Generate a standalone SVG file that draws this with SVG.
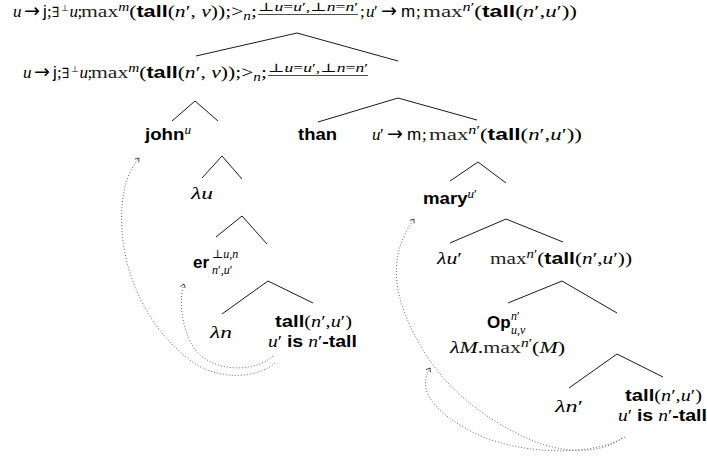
<svg xmlns="http://www.w3.org/2000/svg" width="707" height="460" viewBox="0 0 707 460">
<style>
text{font-family:"Liberation Serif","DejaVu Serif",serif;font-size:17px;fill:#000}
.i{font-style:italic}
.b{font-family:"Liberation Sans","DejaVu Sans",sans-serif;font-weight:bold;font-style:normal}
.sf{font-family:"Liberation Sans","DejaVu Sans",sans-serif;font-style:normal}
.ar{font-family:"DejaVu Sans",sans-serif;font-size:19px;font-style:normal}
.ex{font-family:"DejaVu Serif",serif;font-size:14px}
.bt{font-family:"DejaVu Sans",sans-serif;font-size:9px}
.bb{fill:#222}
.sc{font-size:12px}
.edges line{stroke:#000;stroke-width:0.9}
.moves path{fill:none;stroke:#555;stroke-width:0.9;stroke-dasharray:1 2;marker-end:url(#ah)}
.rule{stroke:#000;stroke-width:0.7}
</style>
<defs>
<marker id="ah" viewBox="-5 -4 6 8" refX="0" refY="0" markerWidth="6" markerHeight="8" markerUnits="userSpaceOnUse" orient="auto">
<path d="M-3.5,-2.6 L0,0 L-3.5,2.6" fill="none" stroke="#333" stroke-width="0.8"/>
</marker>
</defs>

<g id="edges" class="edges">
<line x1="297" y1="33" x2="196" y2="56"/>
<line x1="297" y1="33" x2="398" y2="61"/>
<line x1="195" y1="101" x2="172" y2="121"/>
<line x1="195" y1="101" x2="218" y2="121"/>
<line x1="222" y1="156" x2="202" y2="178"/>
<line x1="222" y1="156" x2="242" y2="179"/>
<line x1="242" y1="216" x2="216" y2="237"/>
<line x1="242" y1="216" x2="267" y2="244"/>
<line x1="268" y1="281" x2="222" y2="314"/>
<line x1="268" y1="281" x2="313" y2="303"/>
<line x1="398" y1="98" x2="318" y2="122"/>
<line x1="398" y1="98" x2="477" y2="120"/>
<line x1="478" y1="162" x2="450" y2="181"/>
<line x1="478" y1="162" x2="506" y2="183"/>
<line x1="506" y1="219" x2="450" y2="243"/>
<line x1="506" y1="219" x2="563" y2="242"/>
<line x1="562" y1="281" x2="508" y2="303"/>
<line x1="562" y1="281" x2="617" y2="313"/>
<line x1="617" y1="354" x2="569" y2="388"/>
<line x1="617" y1="354" x2="663" y2="377"/>
</g>

<g id="moves" class="moves">
<path d="M275,363 C255,380 215,380 190,360 C150,330 125,280 122,230 C120,200 125,175 139,158"/>
<path d="M273,356 C255,372 220,372 200,355 C182,338 178,300 184,284"/>
<path d="M622,438 C600,455 560,455 520,435 C470,410 440,380 420,345 C395,300 385,260 414,219"/>
<path d="M625,437 C590,458 510,455 465,428 C430,408 418,388 430,368"/>
</g>

<g id="root">
<text y="17"><tspan class="i" x="13">u</tspan><tspan class="ar" x="24">→</tspan><tspan class="sf" x="43">j</tspan><tspan x="47">;</tspan><tspan class="ex" x="52">∃</tspan><tspan class="bt" x="61" dy="-6">⊥</tspan><tspan class="i" x="69.5" dy="6">u</tspan><tspan x="77.5">;</tspan></text>
<text x="81" y="17" textLength="176" lengthAdjust="spacingAndGlyphs"><tspan class="bb">max</tspan><tspan class="i sc" dy="-6">m</tspan><tspan dy="6">(</tspan><tspan class="b">tall</tspan>(<tspan class="i">n</tspan>′, <tspan class="i">v</tspan>));&gt;<tspan class="i sc" dy="3">n</tspan><tspan dy="-3">;</tspan></text>
<text class="sc" x="258" y="11" textLength="100" lengthAdjust="spacingAndGlyphs">⊥<tspan class="i">u</tspan>=<tspan class="i">u</tspan>′,⊥<tspan class="i">n</tspan>=<tspan class="i">n</tspan>′</text>
<line class="rule" x1="258" y1="14.5" x2="358" y2="14.5"/>
<text y="17"><tspan x="360">;</tspan><tspan class="i" x="366">u</tspan><tspan x="374">′</tspan><tspan class="ar" x="381">→</tspan><tspan class="sf" x="401">m</tspan><tspan x="416">;</tspan></text>
<text x="423" y="17" textLength="154" lengthAdjust="spacingAndGlyphs"><tspan class="bb">max</tspan><tspan class="i sc" dy="-6">n</tspan><tspan class="sc">′</tspan><tspan dy="6">(</tspan><tspan class="b">tall</tspan>(<tspan class="i">n</tspan>′,<tspan class="i">u</tspan>′))</text>
</g>

<g id="left-node">
<text y="78"><tspan class="i" x="23">u</tspan><tspan class="ar" x="34">→</tspan><tspan class="sf" x="53">j</tspan><tspan x="57">;</tspan><tspan class="ex" x="62">∃</tspan><tspan class="bt" x="71" dy="-6">⊥</tspan><tspan class="i" x="79.5" dy="6">u</tspan><tspan x="87.5">;</tspan></text>
<text x="91" y="78" textLength="176" lengthAdjust="spacingAndGlyphs"><tspan class="bb">max</tspan><tspan class="i sc" dy="-6">m</tspan><tspan dy="6">(</tspan><tspan class="b">tall</tspan>(<tspan class="i">n</tspan>′, <tspan class="i">v</tspan>));&gt;<tspan class="i sc" dy="3">n</tspan><tspan dy="-3">;</tspan></text>
<text class="sc" x="268" y="72" textLength="100" lengthAdjust="spacingAndGlyphs">⊥<tspan class="i">u</tspan>=<tspan class="i">u</tspan>′,⊥<tspan class="i">n</tspan>=<tspan class="i">n</tspan>′</text>
<line class="rule" x1="268" y1="75.5" x2="368" y2="75.5"/>
</g>

<g id="john">
<text class="b" x="145" y="140" textLength="46" lengthAdjust="spacingAndGlyphs">john<tspan class="i sc" style="font-family:'Liberation Serif',serif;font-weight:normal" dy="-6">u</tspan></text>
</g>

<g id="than">
<text class="b" x="298" y="140" textLength="39" lengthAdjust="spacingAndGlyphs">than</text>
</g>

<g id="mary-node">
<text y="140"><tspan class="i" x="372">u</tspan><tspan x="380">′</tspan><tspan class="ar" x="387">→</tspan><tspan class="sf" x="407">m</tspan><tspan x="422">;</tspan></text>
<text x="429" y="140" textLength="153" lengthAdjust="spacingAndGlyphs"><tspan class="bb">max</tspan><tspan class="i sc" dy="-6">n</tspan><tspan class="sc">′</tspan><tspan dy="6">(</tspan><tspan class="b">tall</tspan>(<tspan class="i">n</tspan>′,<tspan class="i">u</tspan>′))</text>
</g>

<g id="lambda-u">
<text class="i" x="191" y="199" textLength="22" lengthAdjust="spacingAndGlyphs">λu</text>
</g>

<g id="er">
<text class="b" x="193" y="268">er</text>
<text class="sc" x="212" y="258">⊥<tspan class="i">u</tspan>,<tspan class="i">n</tspan></text>
<text class="sc" x="212" y="274"><tspan class="i">n</tspan>′,<tspan class="i">u</tspan>′</text>
</g>

<g id="lambda-n">
<text class="i" x="210" y="338" textLength="22" lengthAdjust="spacingAndGlyphs">λn</text>
</g>

<g id="tall-left">
<text x="275" y="327" textLength="77" lengthAdjust="spacingAndGlyphs"><tspan class="b">tall</tspan>(<tspan class="i">n</tspan>′,<tspan class="i">u</tspan>′)</text>
<text x="268" y="347" textLength="89" lengthAdjust="spacingAndGlyphs"><tspan class="i">u</tspan>′ <tspan class="b">is</tspan> <tspan class="i">n</tspan>′<tspan class="b">-tall</tspan></text>
</g>

<g id="mary">
<text class="b" x="423" y="204" textLength="54" lengthAdjust="spacingAndGlyphs">mary<tspan class="i sc" style="font-family:'Liberation Serif',serif;font-weight:normal" dy="-6">u</tspan><tspan class="sc" style="font-family:'Liberation Serif',serif;font-weight:normal">′</tspan></text>
</g>

<g id="lambda-u-prime">
<text x="437" y="264" textLength="25" lengthAdjust="spacingAndGlyphs"><tspan class="i">λu</tspan>′</text>
</g>

<g id="max-node">
<text x="490" y="264" textLength="142" lengthAdjust="spacingAndGlyphs"><tspan class="bb">max</tspan><tspan class="i sc" dy="-6">n</tspan><tspan class="sc">′</tspan><tspan dy="6">(</tspan><tspan class="b">tall</tspan>(<tspan class="i">n</tspan>′,<tspan class="i">u</tspan>′))</text>
</g>

<g id="op">
<text class="b" x="487" y="328">Op</text>
<text class="sc" x="511" y="320"><tspan class="i">n</tspan>′</text>
<text class="sc i" x="511" y="334">u,v</text>
<text x="450" y="353" textLength="115" lengthAdjust="spacingAndGlyphs"><tspan class="i">λM</tspan>.<tspan class="bb">max</tspan><tspan class="i sc" dy="-6">n</tspan><tspan class="sc">′</tspan><tspan dy="6">(</tspan><tspan class="i">M</tspan>)</text>
</g>

<g id="lambda-n-prime">
<text x="555" y="412" textLength="28" lengthAdjust="spacingAndGlyphs"><tspan class="i">λn</tspan>′</text>
</g>

<g id="tall-right">
<text x="625" y="401" textLength="77" lengthAdjust="spacingAndGlyphs"><tspan class="b">tall</tspan>(<tspan class="i">n</tspan>′,<tspan class="i">u</tspan>′)</text>
<text x="618" y="421" textLength="89" lengthAdjust="spacingAndGlyphs"><tspan class="i">u</tspan>′ <tspan class="b">is</tspan> <tspan class="i">n</tspan>′<tspan class="b">-tall</tspan></text>
</g>
</svg>
